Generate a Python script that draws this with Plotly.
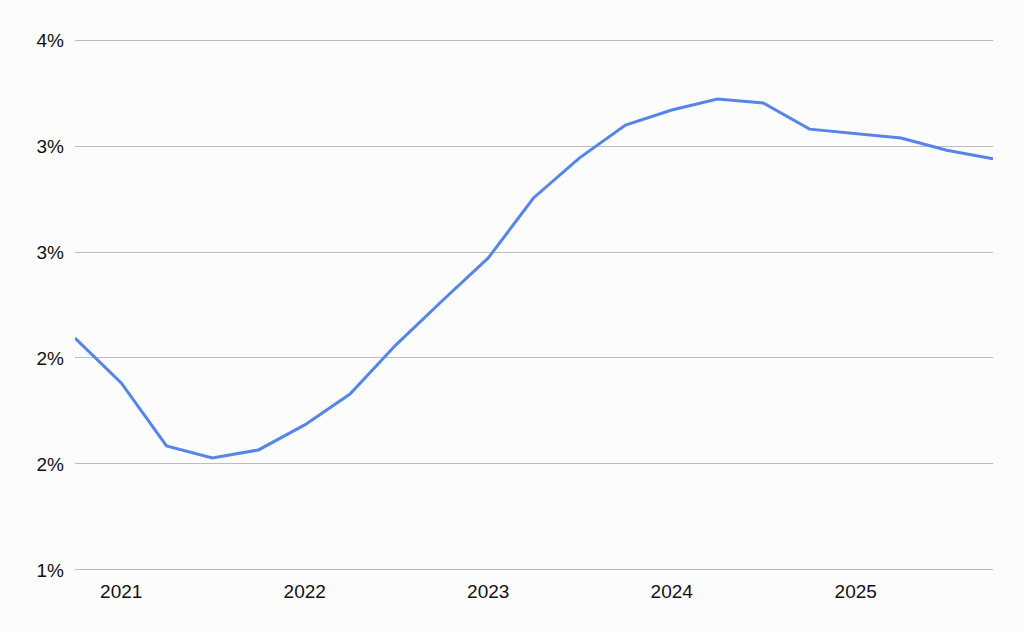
import plotly.graph_objects as go

dates = ["2020-10-01", "2021-01-01", "2021-04-01", "2021-07-01", "2021-10-01",
         "2022-01-01", "2022-04-01", "2022-07-01", "2022-10-01",
         "2023-01-01", "2023-04-01", "2023-07-01", "2023-10-01",
         "2024-01-01", "2024-04-01", "2024-07-01", "2024-10-01",
         "2025-01-01", "2025-04-01", "2025-07-01", "2025-10-01"]
values = [2.094, 1.882, 1.585, 1.528, 1.566, 1.684, 1.83, 2.061, 2.269, 2.472,
          2.755, 2.943, 3.099, 3.17, 3.222, 3.203, 3.08, 3.057, 3.038, 2.98, 2.94]

y_ticks = [1.0, 1.5, 2.0, 2.5, 3.0, 3.5]
y_labels = ["1%", "2%", "2%", "3%", "3%", "4%"]
x_ticks = ["2021-01-01", "2022-01-01", "2023-01-01", "2024-01-01", "2025-01-01"]
x_labels = ["2021", "2022", "2023", "2024", "2025"]

fig = go.Figure()
fig.add_trace(go.Scatter(x=dates, y=values, mode="lines",
                         line=dict(color="#5585eb", width=3)))

fig.update_layout(
    width=1024, height=632,
    margin=dict(l=75, r=31, t=38, b=60),
    paper_bgcolor="#fcfcfc", plot_bgcolor="#fcfcfc",
    showlegend=False,
    font=dict(family="Liberation Sans, Arial, sans-serif", size=19, color="#111111"),
)
fig.update_xaxes(range=["2020-10-01", "2025-10-01"], tickvals=x_ticks, ticktext=x_labels,
                 showgrid=False, zeroline=False, showline=False, ticks="",
                 ticklabelstandoff=6)
fig.update_yaxes(range=[0.99, 3.51], tickvals=y_ticks, ticktext=y_labels,
                 showgrid=True, gridcolor="#bdbdbd", gridwidth=1, zeroline=False,
                 showline=False, ticks="", ticklabelstandoff=10)

fig.write_html("out.html", config={"displayModeBar": False},
               post_script="document.body.style.margin='0';document.body.style.background='#fcfcfc';")
